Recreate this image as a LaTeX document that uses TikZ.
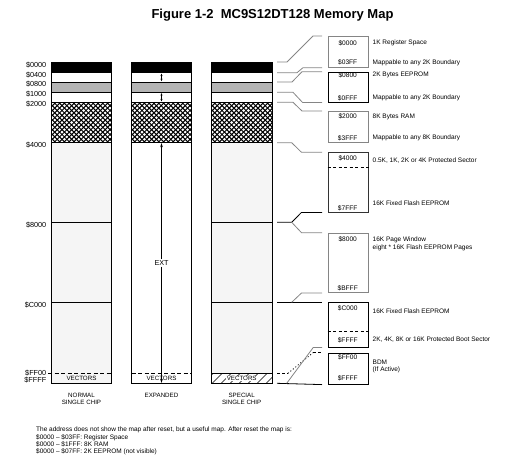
\documentclass[tikz,border=0pt]{standalone}
\usepackage{fontspec}
\setmainfont{Liberation Sans}
\usetikzlibrary{arrows.meta,calc}
\definecolor{lightfill}{HTML}{F5F5F5}
\definecolor{midgray}{HTML}{B4B4B4}
\definecolor{conngray}{HTML}{858585}
\tikzset{
  txt/.style={inner sep=0pt,font=\fontsize{6.5}{7.5}\selectfont},
  addr/.style={inner sep=0pt,anchor=east,font=\fontsize{7.3}{7.3}\selectfont},
  boxaddr/.style={inner sep=0pt,font=\fontsize{6.6}{7}\selectfont},
  rtxt/.style={inner sep=0pt,anchor=west,font=\fontsize{6.5}{7.5}\selectfont},
  coltxt/.style={inner sep=0pt,align=center,font=\fontsize{6.2}{7}\selectfont},
  colline/.style={line width=0.8pt},
  rbox/.style={draw,line width=0.7pt,inner sep=0pt,anchor=north west,minimum width=40.5pt},
  conn/.style={conngray,line width=0.8pt},
  connb/.style={black,line width=0.8pt},
  tip/.style={-{Stealth[length=4pt,width=2.6pt]},line width=0.8pt},
  smalltip/.style={{Stealth[length=2.4pt,width=2pt]}-{Stealth[length=2.4pt,width=2pt]},line width=0.6pt}
}
\begin{document}
\begin{tikzpicture}[x=1pt,y=-1pt]
\useasboundingbox (0,0) rectangle (514,472);
% title
\node[inner sep=0pt,anchor=base,font=\bfseries\fontsize{13}{15}\selectfont] (title) at (272.5,18.3) {Figure 1-2\hspace{0.55em}MC9S12DT128 Memory Map};

% ---------- columns ----------
\foreach \xa/\xb/\low in {51.5/111.5/lightfill,131.5/191.5/white,211.5/272/lightfill}{
  \fill[black] (\xa,62) rectangle (\xb,72.7);
  \fill[white] (\xa,72.7) rectangle (\xb,82);
  \fill[midgray] (\xa,82) rectangle (\xb,92.3);
  \fill[white] (\xa,92.3) rectangle (\xb,102.3);
  \fill[\low] (\xa,142.7) rectangle (\xb,383.3);
  \begin{scope}
    \clip (\xa,102.3) rectangle (\xb,142.7);
    \fill[white] (\xa,102.3) rectangle (\xb,142.7);
    \foreach \k in {-11,...,14}{
      \draw[line width=1.05pt] (\xa+\k*4.8,100) -- ++(50,50);
      \draw[line width=1.05pt] (\xa+\k*4.8,145) -- ++(50,-50);
    }
  \end{scope}
  \foreach \yy in {72.7,82,92.3,102.3,142.7}{\draw[colline] (\xa,\yy) -- (\xb,\yy);}
}
% col 3 hatched vectors area
\begin{scope}
  \clip (211.5,373.3) rectangle (272,383.3);
  \fill[white] (211.5,373.3) rectangle (272,383.3);
  \foreach \k in {-2,...,8}{\draw[line width=0.6pt] (211.5+\k*9,384) -- ++(11,-11);}
\end{scope}
% horizontal lines of cols 1 and 3
\foreach \xa/\xb in {51.5/111.5,211.5/272}{
  \draw[colline] (\xa,222.3) -- (\xb,222.3);
  \draw[colline] (\xa,302.3) -- (\xb,302.3);
}
\draw[colline,dash pattern=on 4pt off 2.5pt] (48,373.3) -- (111.5,373.3);
\draw[colline,dash pattern=on 4pt off 2.5pt] (131.5,373.3) -- (191.5,373.3);
\draw[colline] (211.5,373.3) -- (272,373.3);
% outlines
\foreach \xa/\xb in {51.5/111.5,131.5/191.5,211.5/272}{
  \draw[colline] (\xa,62) rectangle (\xb,383.3);
}
% vectors labels
\node[coltxt] (v1) at (81.5,378.6) {VECTORS};
\node[coltxt] (v2) at (161.5,378.6) {VECTORS};
\node[coltxt,fill=white,inner xsep=1pt,inner ysep=0.6pt] (v3) at (241.7,378.6) {VECTORS};
% expanded arrows
\draw[smalltip] (161.5,73.6) -- (161.5,81.1);
\draw[smalltip] (161.5,93.2) -- (161.5,101.4);
\node[inner sep=1pt,fill=white,font=\fontsize{7.2}{8}\selectfont] (ext) at (161.5,263) {EXT};
\draw[tip] (ext.north) -- (161.5,143.2);
\draw[tip] (ext.south) -- (161.5,382.9);
% names under columns
\node[coltxt] (n1) at (81.5,398.8) {NORMAL\\SINGLE CHIP};
\node[coltxt] (n2) at (161.5,395.3) {EXPANDED};
\node[coltxt] (n3) at (241.7,398.8) {SPECIAL\\SINGLE CHIP};

% left addresses
\node[addr] (a0) at (46.5,65) {\$0000};
\node[addr] (a1) at (46.5,74.6) {\$0400};
\node[addr] (a2) at (46.5,84.2) {\$0800};
\node[addr] (a3) at (46.5,94.5) {\$1000};
\node[addr] (a4) at (46.5,104.2) {\$2000};
\node[addr] (a5) at (46.5,145.5) {\$4000};
\node[addr] (a6) at (46.5,225) {\$8000};
\node[addr] (a7) at (46.5,305) {\$C000};
\node[addr] (a8) at (46.5,373.2) {\$FF00};
\node[addr] (a9) at (46.5,379.6) {\$FFFF};

% ---------- right boxes ----------
\node[rbox,draw=conngray,minimum height=31pt] (b1) at (327.5,36) {};
\node[rbox,draw=black,minimum height=30pt] (b2) at (327.5,71.7) {};
\node[rbox,draw=conngray,minimum height=31pt] (b3) at (327.5,111) {};
\node[rbox,draw=black!80,minimum height=59.4pt] (b4) at (327.5,152.3) {};
\node[rbox,draw=conngray,minimum height=59.6pt] (b5) at (327.5,232.7) {};
\node[rbox,draw=black,minimum height=44.4pt] (b6) at (327.5,302.3) {};
\node[rbox,draw=black,minimum height=31.2pt] (b7) at (327.5,352.7) {};
\draw[line width=0.7pt,dash pattern=on 3pt off 2.5pt] (b4.west |- 0,167.3) -- (b4.east |- 0,167.3);
\draw[line width=0.7pt,dash pattern=on 3pt off 2.5pt] (b6.west |- 0,331.7) -- (b6.east |- 0,331.7);

\node[boxaddr] at (347.7,43) {\$0000};
\node[boxaddr] at (347.7,62.5) {\$03FF};
\node[boxaddr] at (347.7,74.8) {\$0800};
\node[boxaddr] at (347.7,98) {\$0FFF};
\node[boxaddr] at (347.7,116.5) {\$2000};
\node[boxaddr] at (347.7,138) {\$3FFF};
\node[boxaddr] at (347.7,158) {\$4000};
\node[boxaddr] at (347.7,208.5) {\$7FFF};
\node[boxaddr] at (347.7,239) {\$8000};
\node[boxaddr] at (347.7,288.3) {\$BFFF};
\node[boxaddr] at (347.7,308) {\$C000};
\node[boxaddr] at (347.7,340.3) {\$FFFF};
\node[boxaddr] at (347.7,357.3) {\$FF00};
\node[boxaddr] at (347.7,377.8) {\$FFFF};

\node[rtxt] at (372.5,42.5) {1K Register Space};
\node[rtxt] at (372.5,62.5) {Mappable to any 2K Boundary};
\node[rtxt] at (372.5,74.8) {2K Bytes EEPROM};
\node[rtxt] at (372.5,98.2) {Mappable to any 2K Boundary};
\node[rtxt] at (372.5,116.8) {8K Bytes RAM};
\node[rtxt] at (372.5,138) {Mappable to any 8K Boundary};
\node[rtxt] at (372.5,160.5) {0.5K, 1K, 2K or 4K Protected Sector};
\node[rtxt] at (372.5,203.2) {16K Fixed Flash EEPROM};
\node[rtxt] at (372.5,239.7) {16K Page Window};
\node[rtxt] at (372.5,248) {eight * 16K Flash EEPROM Pages};
\node[rtxt] at (372.5,311.5) {16K Fixed Flash EEPROM};
\node[rtxt] at (372.5,339.5) {2K, 4K, 8K or 16K Protected Boot Sector};
\node[rtxt] at (372.5,362.3) {BDM};
\node[rtxt] at (372.5,369.8) {(If Active)};

% ---------- connectors ----------
\coordinate (L0) at (277,62);
\coordinate (L1) at (277,72.7);
\coordinate (L2) at (277,82);
\coordinate (L3) at (277,92.3);
\coordinate (L4) at (277,102.3);
\coordinate (L5) at (277,142.7);
\coordinate (L6) at (277,222.3);
\coordinate (L7) at (277,302.3);
\coordinate (L8) at (277,373.3);
\coordinate (L9) at (277,383.3);

\draw[conn] (L0) -- ++(10,0) -- ([xshift=-14.5pt]b1.north west) -- ([xshift=-5.5pt]b1.north west);
\draw[conn] (L1) -- ++(20,0) -- ([xshift=-24.5pt]b1.south west) -- ([xshift=-5.5pt]b1.south west);
\draw[conn] (L2) -- ++(15,0) -- ([xshift=-25.5pt]b2.north west) -- ([xshift=-5.5pt]b2.north west);
\draw[conn] (L3) -- ++(16,0) -- ([xshift=-25pt]b2.south west) -- ([xshift=-5.5pt]b2.south west);
\draw[conn] (L4) -- ++(16,0) -- ([xshift=-25.5pt]b3.north west) -- ([xshift=-5.5pt]b3.north west);
\draw[conn] (L5) -- ++(14.7,0) -- ([xshift=-26pt]b4.north west) -- ([xshift=-5.5pt]b4.north west);
\draw[connb] (L6) -- ++(14.7,0) coordinate (g6) -- ([xshift=-26pt]b4.south west) -- ([xshift=-5.5pt]b4.south west);
\draw[conn] (g6) -- ([xshift=-26pt]b5.north west) -- ([xshift=-5.5pt]b5.north west);
\draw[connb] (L7) -- ([xshift=-5.5pt]b6.north west);
\draw[conn] ([xshift=14.7pt]L7) -- ([xshift=-26pt]b5.south west) -- ([xshift=-5.5pt]b5.south west);
\draw[connb,dash pattern=on 3pt off 2pt] (L8) -- ++(11,0) coordinate (d8);
\draw[connb,dash pattern=on 1pt off 2.2pt] (d8) -- ([xshift=-14.5pt]b7.north west);
\draw[connb,dash pattern=on 3pt off 2pt] ([xshift=-14.5pt]b7.north west) -- ([xshift=-5.5pt]b7.north west);
\draw[connb] (L9) -- ([xshift=-5.5pt]b7.south west);
\draw[conn] ([xshift=9.7pt]L9) -- ([xshift=-14.2pt]b6.south west) -- ([xshift=-5.5pt]b6.south west);

% ---------- note ----------
\node[inner sep=0pt,anchor=north west,align=left,font=\fontsize{6.5}{7.2}\selectfont] (note) at (36,427) {The address does not show the map after reset, but a useful map. After reset the map is:\\
\$0000 – \$03FF: Register Space\\
\$0000 – \$1FFF: 8K RAM\\
\$0000 – \$07FF: 2K EEPROM (not visible)};
\end{tikzpicture}
\end{document}
